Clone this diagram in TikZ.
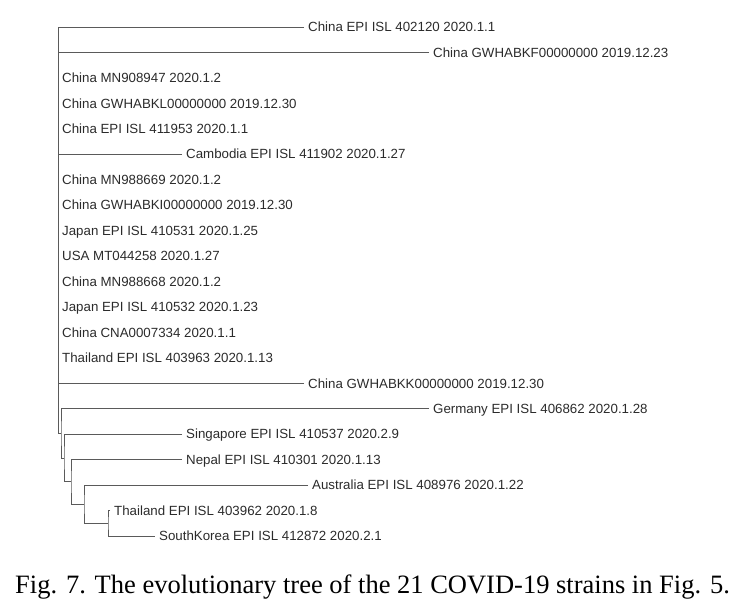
\documentclass[tikz,border=0pt]{standalone}
\usepackage{fontspec}
\setmainfont{Liberation Serif}
\newfontfamily\labfont{Liberation Sans}
\definecolor{linegray}{HTML}{5A5A5A}
\definecolor{labelgray}{HTML}{2B2B2B}
\begin{document}
\begin{tikzpicture}[x=1pt,y=-1pt,
  branch/.style={draw=linegray, line width=0.9pt},
  leaf/.style={anchor=west, font=\labfont\fontsize{13.3}{15}\selectfont, text=labelgray,
    inner xsep=4pt, inner ysep=0pt, text height=9.5pt, text depth=0pt},
  captext/.style={anchor=base west, font=\fontsize{26.5}{30}\selectfont, text=black, inner sep=0pt}]
\useasboundingbox (0,0) rectangle (739,607);
% leaves
\node[leaf] (L0)  at (304,27)     {China EPI ISL 402120 2020.1.1};
\node[leaf] (L1)  at (429,52.45)  {China GWHABKF00000000 2019.12.23};
\node[leaf] (L2)  at (58,77.9)    {China MN908947 2020.1.2};
\node[leaf] (L3)  at (58,103.35)  {China GWHABKL00000000 2019.12.30};
\node[leaf] (L4)  at (58,128.8)   {China EPI ISL 411953 2020.1.1};
\node[leaf] (L5)  at (182,154.25) {Cambodia EPI ISL 411902 2020.1.27};
\node[leaf] (L6)  at (58,179.7)   {China MN988669 2020.1.2};
\node[leaf] (L7)  at (58,205.15)  {China GWHABKI00000000 2019.12.30};
\node[leaf] (L8)  at (58,230.6)   {Japan EPI ISL 410531 2020.1.25};
\node[leaf] (L9)  at (58,256.05)  {USA MT044258 2020.1.27};
\node[leaf] (L10) at (58,281.5)   {China MN988668 2020.1.2};
\node[leaf] (L11) at (58,306.95)  {Japan EPI ISL 410532 2020.1.23};
\node[leaf] (L12) at (58,332.4)   {China CNA0007334 2020.1.1};
\node[leaf] (L13) at (58,357.85)  {Thailand EPI ISL 403963 2020.1.13};
\node[leaf] (L14) at (304,383.3)  {China GWHABKK00000000 2019.12.30};
\node[leaf] (L15) at (429,408.75) {Germany EPI ISL 406862 2020.1.28};
\node[leaf] (L16) at (182,434.2)  {Singapore EPI ISL 410537 2020.2.9};
\node[leaf] (L17) at (182,459.65) {Nepal EPI ISL 410301 2020.1.13};
\node[leaf] (L18) at (308,485.1)  {Australia EPI ISL 408976 2020.1.22};
\node[leaf] (L19) at (110,510.55) {Thailand EPI ISL 403962 2020.1.8};
\node[leaf] (L20) at (155,536)    {SouthKorea EPI ISL 412872 2020.2.1};
% internal nodes
\coordinate (T) at (108,523.3);
\coordinate (A) at (84,504.2);
\coordinate (N) at (71,481.9);
\coordinate (S) at (64,458.05);
\coordinate (G) at (61,433.4);
\coordinate (R) at (58,433.4);
% branches
\draw[branch] (L19.west) -| (T) |- (L20.west);
\draw[branch] (L18.west) -| (A) |- (T);
\draw[branch] (L17.west) -| (N) |- (A);
\draw[branch] (L16.west) -| (S) |- (N);
\draw[branch] (L15.west) -| (G) |- (S);
\draw[branch] (L0.west) -| (R) -- (G);
\draw[branch] (L1.west) -- (L1.west -| R);
\draw[branch] (L5.west) -- (L5.west -| R);
\draw[branch] (L14.west) -- (L14.west -| R);
% caption
\node[captext] (cap) at (15,593) {Fig. 7. The evolutionary tree of the 21 COVID-19 strains in Fig. 5.};
\end{tikzpicture}
\end{document}
